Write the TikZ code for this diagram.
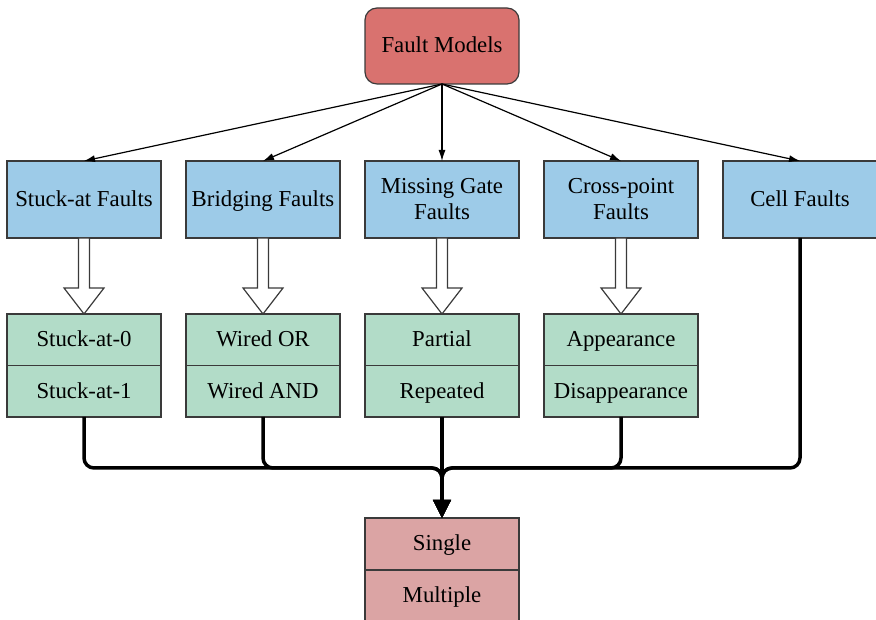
\documentclass[tikz,border=0pt]{standalone}
\usepackage{fontspec}
\setmainfont{Liberation Serif}
\usetikzlibrary{positioning,arrows.meta,calc}

\definecolor{modelred}{HTML}{D9726F}
\definecolor{kindblue}{HTML}{9DCBE8}
\definecolor{partgreen}{HTML}{B2DCC8}
\definecolor{multpink}{HTML}{DBA4A4}
\definecolor{edgegray}{HTML}{3A3A3A}

\tikzset{
  box/.style={draw=edgegray, line width=1.2pt, minimum width=154pt, minimum height=77pt,
    align=center, inner sep=2pt, outer sep=0pt, font=\fontsize{22.8}{26}\selectfont},
  oneline/.style={text height=17pt, text depth=3pt},
  model/.style={box, oneline, fill=modelred, minimum height=76pt, rounded corners=12pt},
  kind/.style={box, fill=kindblue},
  part/.style={box, oneline, fill=partgreen, minimum height=51.5pt},
  mult/.style={box, oneline, fill=multpink, minimum height=52pt},
  spoke/.style={line width=1.2pt, -{Latex[length=11pt,width=7pt]}},
  hollow/.style={draw=edgegray, line width=1.2pt, fill=white},
  bus/.style={line width=3.5pt, rounded corners=10pt, -{Triangle[length=18pt,width=17pt]}},
}

\begin{document}
\begin{tikzpicture}[x=1pt, y=1pt]
 \useasboundingbox (0,0) rectangle (876,620);

 \node[model] (fm) at (442,574) {Fault Models};

 \node[kind, oneline] (stuck) at (84,420.5) {Stuck-at Faults};
 \node[kind, oneline, right=25pt of stuck] (bridge) {Bridging Faults};
 \node[kind, right=25pt of bridge] (miss) {Missing Gate\\Faults};
 \node[kind, right=25pt of miss] (cross) {Cross-point\\Faults};
 \node[kind, oneline, right=25pt of cross] (cell) {Cell Faults};

 \node[part, below=76pt of stuck] (sa0) {Stuck-at-0};
 \node[part, below=0pt of sa0] (sa1) {Stuck-at-1};
 \node[part, below=76pt of bridge] (wor) {Wired OR};
 \node[part, below=0pt of wor] (wand) {Wired AND};
 \node[part, below=76pt of miss] (partial) {Partial};
 \node[part, below=0pt of partial] (repeated) {Repeated};
 \node[part, below=76pt of cross] (appear) {Appearance};
 \node[part, below=0pt of appear] (disappear) {Disappearance};

 \node[mult, below=101pt of repeated] (single) {Single};
 \node[mult, below=0pt of single] (multiple) {Multiple};

 \coordinate (join) at ($(repeated.south)+(0,-51)$);

 % spokes from the top box
 \path[spoke] (fm.south) edge (stuck.north);
 \path[spoke] (fm.south) edge (bridge.north);
 \path[spoke] (fm.south) edge (miss.north);
 \path[spoke] (fm.south) edge (cross.north);
 \path[spoke] (fm.south) edge (cell.north);

 % hollow block arrows
 \foreach \a/\b in {stuck/sa0, bridge/wor, miss/partial, cross/appear}
  \draw[hollow] ($(\a.south)+(-5.5,0)$) -- ++(0,-50) -- ++(-14.5,0) -- (\b.north)
    -- ++(20,26) -- ++(-14.5,0) -- ($(\a.south)+(5.5,0)$) -- cycle;

 % merging bus
 \draw[bus] (sa1.south) |- (join) -- (single.north);
 \draw[bus] (wand.south) |- (join) -- (single.north);
 \draw[bus] (disappear.south) |- (join) -- (single.north);
 \draw[bus] (cell.south) |- (join) -- (single.north);
 \draw[bus] (repeated.south) -- (single.north);
\end{tikzpicture}
\end{document}
